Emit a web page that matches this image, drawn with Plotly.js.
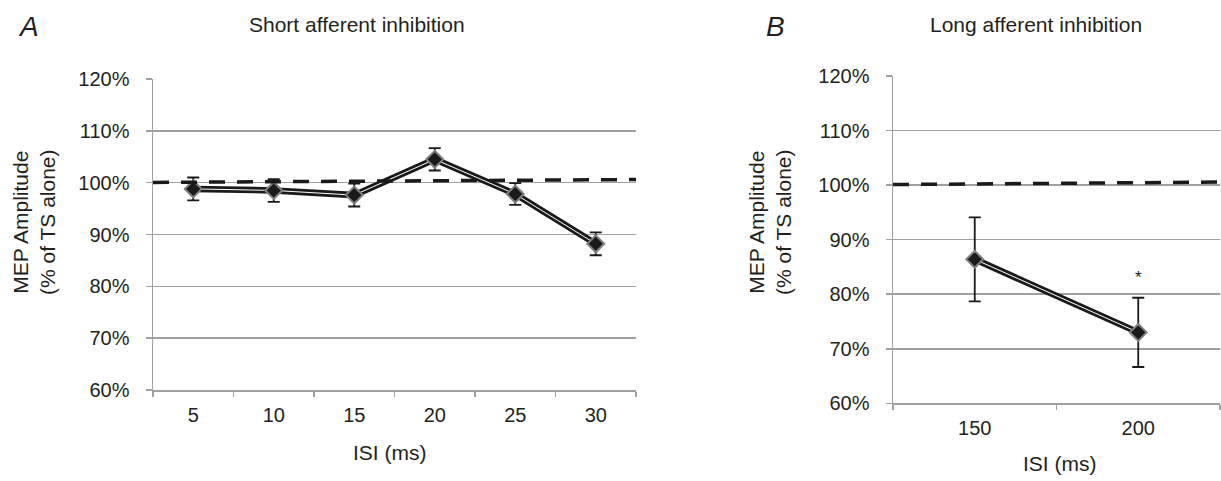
<!DOCTYPE html>
<html>
<head>
<meta charset="utf-8">
<script src="https://cdn.plot.ly/plotly-3.0.1.min.js"></script>
<style>
html, body { margin: 0; padding: 0; background: #fff; }
#chart { width: 1221px; height: 481px; }
</style>
</head>
<body>
<div id="chart"></div>
<script>
// ---- data ----
const isiShort = ['5', '10', '15', '20', '25', '30'];
const saiMean = [98.8, 98.5, 97.6, 104.5, 97.8, 88.2];
const saiErr = [2.2, 2.2, 2.2, 2.15, 2.1, 2.2];

const isiLong = ['150', '200'];
const laiMean = [86.4, 73.0];
const laiErr = [7.7, 6.35];

const refShortY = [100.05, 100.6];   // dashed reference (left edge, right edge)
const refLongY = [100.1, 100.55];
const refEdges = [0, 1];

const sigIsi = ['200'];
const sigY = [82.9];
const sigText = ['*'];

const yTicks = [60, 70, 80, 90, 100, 110, 120];
const yTickText = yTicks.map(v => v + '%');

// ---- styling ----
const FONT = 'Liberation Sans, Arial, Helvetica, sans-serif';
const TXT = '#231f20';
const GRID = '#a0a0a0';

function meanTraces(x, y, err, xa, ya) {
  return [
    { x: x, y: y, xaxis: xa, yaxis: ya, type: 'scatter', mode: 'lines',
      line: { color: '#1a1a1a', width: 6.5 }, hoverinfo: 'skip', showlegend: false },
    { x: x, y: y, xaxis: xa, yaxis: ya, type: 'scatter', mode: 'lines',
      line: { color: '#ffffff', width: 1 }, hoverinfo: 'skip', showlegend: false },
    { x: x, y: y, xaxis: xa, yaxis: ya, type: 'scatter', mode: 'markers',
      marker: { symbol: 'diamond', size: 13, color: '#1a1a1a', line: { color: '#808080', width: 2 } },
      error_y: { type: 'data', array: err, visible: true, color: '#1a1a1a', thickness: 1.8, width: 6 },
      showlegend: false }
  ];
}

const traces = [
  { x: refEdges, y: refShortY, xaxis: 'x3', yaxis: 'y', type: 'scatter', mode: 'lines',
    line: { color: '#1a1a1a', width: 3.5, dash: '16px,12px' }, hoverinfo: 'skip', showlegend: false },
  { x: refEdges, y: refLongY, xaxis: 'x4', yaxis: 'y2', type: 'scatter', mode: 'lines',
    line: { color: '#1a1a1a', width: 3.5, dash: '16px,12px' }, hoverinfo: 'skip', showlegend: false },
  ...meanTraces(isiShort, saiMean, saiErr, 'x', 'y'),
  ...meanTraces(isiLong, laiMean, laiErr, 'x2', 'y2'),
  { x: sigIsi, y: sigY, text: sigText, xaxis: 'x2', yaxis: 'y2', type: 'scatter', mode: 'text',
    textfont: { family: FONT, size: 17, color: TXT }, hoverinfo: 'skip', showlegend: false }
];

function xCat(domain, anchor, n) {
  return {
    type: 'category', domain: domain, anchor: anchor, range: [-0.5, n - 0.5],
    showgrid: false, zeroline: false,
    showline: true, linecolor: GRID, linewidth: 1.5,
    ticks: 'outside', tickson: 'boundaries', ticklen: 5, tickcolor: GRID, tickwidth: 1.5,
    tickfont: { family: FONT, size: 20, color: TXT }, ticklabelstandoff: 6,
    fixedrange: true
  };
}
function yPct(domain, anchor) {
  return {
    domain: domain, anchor: anchor, range: [60, 120],
    tickmode: 'array', tickvals: yTicks, ticktext: yTickText,
    showgrid: true, gridcolor: GRID, gridwidth: 1.5, zeroline: false,
    showline: true, linecolor: GRID, linewidth: 1.5,
    ticks: 'outside', ticklen: 6, tickcolor: GRID, tickwidth: 1.5,
    tickfont: { family: FONT, size: 20, color: TXT }, ticklabelstandoff: 12,
    fixedrange: true
  };
}

const H = 481, W = 1221;
const layout = {
  width: W, height: H,
  margin: { l: 0, r: 0, t: 0, b: 0 },
  paper_bgcolor: '#ffffff', plot_bgcolor: '#ffffff',
  showlegend: false,
  xaxis: xCat([153 / W, 636 / W], 'y', isiShort.length),
  yaxis: yPct([1 - 390 / H, 1 - 79 / H], 'x'),
  xaxis2: xCat([893 / W, 1220 / W], 'y2', isiLong.length),
  yaxis2: yPct([1 - 403.3 / H, 1 - 76 / H], 'x2'),
  xaxis3: { overlaying: 'x', anchor: 'y', range: [0, 1], visible: false, fixedrange: true },
  xaxis4: { overlaying: 'x2', anchor: 'y2', range: [0, 1], visible: false, fixedrange: true },
  annotations: [
    { text: '<i>A</i>', xref: 'paper', yref: 'paper', x: 28 / W, y: 1 - 26 / H, showarrow: false,
      font: { family: FONT, size: 28, color: TXT }, xanchor: 'center', yanchor: 'middle' },
    { text: '<i>B</i>', xref: 'paper', yref: 'paper', x: 775 / W, y: 1 - 26 / H, showarrow: false,
      font: { family: FONT, size: 28, color: TXT }, xanchor: 'center', yanchor: 'middle' },
    { text: 'Short afferent inhibition', xref: 'paper', yref: 'paper', x: 357 / W, y: 1 - 24 / H,
      showarrow: false, font: { family: FONT, size: 21, color: TXT }, xanchor: 'center', yanchor: 'middle' },
    { text: 'Long afferent inhibition', xref: 'paper', yref: 'paper', x: 1036 / W, y: 1 - 24 / H,
      showarrow: false, font: { family: FONT, size: 21, color: TXT }, xanchor: 'center', yanchor: 'middle' },
    { text: 'MEP Amplitude<br>(% of TS alone)', xref: 'paper', yref: 'paper', x: 34 / W, y: 1 - 222 / H,
      textangle: -90, showarrow: false, font: { family: FONT, size: 21, color: TXT },
      xanchor: 'center', yanchor: 'middle' },
    { text: 'MEP Amplitude<br>(% of TS alone)', xref: 'paper', yref: 'paper', x: 770 / W, y: 1 - 222 / H,
      textangle: -90, showarrow: false, font: { family: FONT, size: 21, color: TXT },
      xanchor: 'center', yanchor: 'middle' },
    { text: 'ISI (ms)', xref: 'paper', yref: 'paper', x: 390 / W, y: 1 - 452 / H,
      showarrow: false, font: { family: FONT, size: 21, color: TXT }, xanchor: 'center', yanchor: 'middle' },
    { text: 'ISI (ms)', xref: 'paper', yref: 'paper', x: 1060 / W, y: 1 - 463 / H,
      showarrow: false, font: { family: FONT, size: 21, color: TXT }, xanchor: 'center', yanchor: 'middle' }
  ]
};

Plotly.newPlot('chart', traces, layout, { displayModeBar: false, staticPlot: true });
</script>
</body>
</html>
